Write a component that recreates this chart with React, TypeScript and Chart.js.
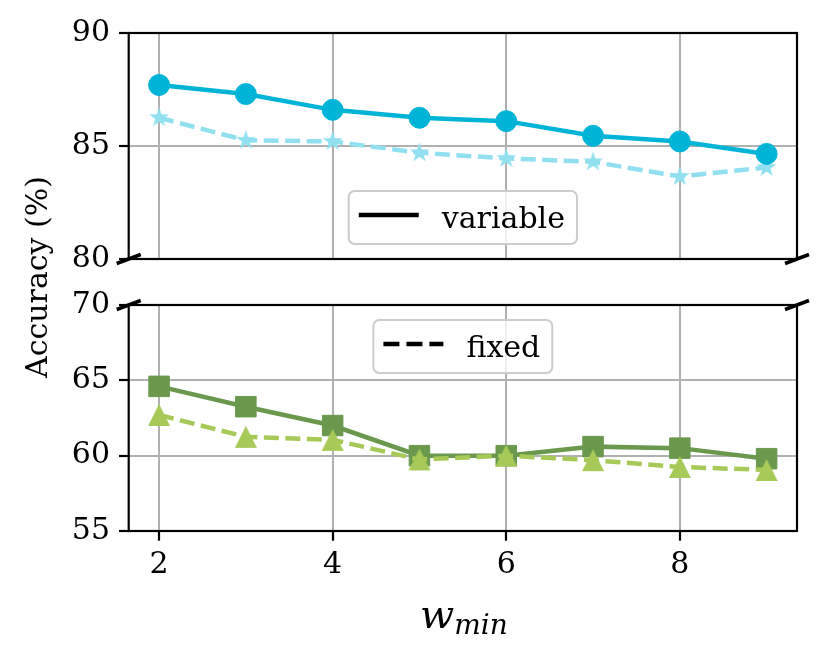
import React, { useEffect, useRef } from "react";
import { Chart, registerables } from "chart.js";

Chart.register(...registerables);

// ---------------- data ----------------
const wMin = [2, 3, 4, 5, 6, 7, 8, 9];
// upper panel (80-90)
const upperVariable = [87.7, 87.3, 86.6, 86.25, 86.1, 85.45, 85.2, 84.65];
const upperFixed = [86.25, 85.25, 85.2, 84.7, 84.45, 84.3, 83.65, 84.05];
// lower panel (55-70)
const lowerVariable = [64.6, 63.25, 62.0, 60.0, 60.0, 60.6, 60.5, 59.8];
const lowerFixed = [62.7, 61.25, 61.05, 59.75, 60.0, 59.7, 59.25, 59.05];

const xTickValues = [2, 4, 6, 8];
const upperYTicks = [80, 85, 90];
const lowerYTicks = [55, 60, 65, 70];
const upperLegendLabel = "variable";
const lowerLegendLabel = "fixed";
const yAxisTitle = "Accuracy (%)";
const xAxisMain = "w";
const xAxisSub = "min";

// ---------------- styles ----------------
const FONT = '"DejaVu Serif", "Liberation Serif", serif';
const FS = 30;
const C_CIRCLE = "#00b4d8";
const C_STAR = "#90e0ef";
const C_SQUARE = "#6a994e";
const C_TRI = "#a7c957";
const DASH = [15, 6.5];
const LW = 4.5;

function makeStar(color: string, R: number): HTMLCanvasElement {
  const c = document.createElement("canvas");
  const s = Math.ceil(2 * R + 4);
  c.width = s;
  c.height = s;
  const ctx = c.getContext("2d")!;
  const cx = s / 2,
    cy = s / 2;
  const r = R * 0.381966;
  ctx.fillStyle = color;
  ctx.beginPath();
  for (let i = 0; i < 10; i++) {
    const ang = -Math.PI / 2 + (i * Math.PI) / 5;
    const rad = i % 2 === 0 ? R : r;
    const px = cx + Math.cos(ang) * rad;
    const py = cy + Math.sin(ang) * rad;
    if (i === 0) ctx.moveTo(px, py);
    else ctx.lineTo(px, py);
  }
  ctx.closePath();
  ctx.fill();
  return c;
}

function makeTriangle(color: string, size: number): HTMLCanvasElement {
  const c = document.createElement("canvas");
  const s = Math.ceil(size + 2);
  c.width = s;
  c.height = s;
  const ctx = c.getContext("2d")!;
  const h = size / 2;
  const cx = s / 2,
    cy = s / 2;
  ctx.fillStyle = color;
  ctx.beginPath();
  ctx.moveTo(cx, cy - h);
  ctx.lineTo(cx - h, cy + h);
  ctx.lineTo(cx + h, cy + h);
  ctx.closePath();
  ctx.fill();
  return c;
}

function drawLegend(
  ctx: CanvasRenderingContext2D,
  a: any,
  text: string,
  dashed: boolean,
  where: "lower" | "upper"
) {
  ctx.save();
  ctx.font = `${FS}px ${FONT}`;
  const tw = ctx.measureText(text).width;
  const padL = 10,
    handle = 60,
    gap = 23,
    padR = 12,
    h = 53;
  const w = padL + handle + gap + tw + padR;
  const cx = (a.left + a.right) / 2;
  const x0 = cx - w / 2;
  const y0 = where === "lower" ? a.bottom - 15 - h : a.top + 15;
  ctx.beginPath();
  if ((ctx as any).roundRect) (ctx as any).roundRect(x0, y0, w, h, 6);
  else ctx.rect(x0, y0, w, h);
  ctx.fillStyle = "rgba(255,255,255,0.8)";
  ctx.fill();
  ctx.strokeStyle = "#cccccc";
  ctx.lineWidth = 2;
  ctx.stroke();
  const ly = y0 + h / 2 - 2.5;
  ctx.beginPath();
  ctx.setLineDash(dashed ? [16, 7] : []);
  ctx.strokeStyle = "#000";
  ctx.lineWidth = 4.5;
  ctx.moveTo(x0 + padL, ly);
  ctx.lineTo(x0 + padL + handle, ly);
  ctx.stroke();
  ctx.setLineDash([]);
  ctx.fillStyle = "#000";
  ctx.textBaseline = "alphabetic";
  ctx.textAlign = "left";
  ctx.fillText(text, x0 + padL + handle + gap, y0 + h / 2 + 10);
  ctx.restore();
}

function framePlugin(
  legendText: string,
  dashed: boolean,
  where: "lower" | "upper",
  breakEdge: "top" | "bottom",
  drawXLabel: boolean
) {
  return {
    id: "frameAndLegend",
    afterDraw(chart: any) {
      const { ctx, chartArea: a } = chart;
      drawLegend(ctx, a, legendText, dashed, where);
      ctx.save();
      ctx.strokeStyle = "#000";
      ctx.lineWidth = 2.2;
      ctx.strokeRect(a.left, a.top, a.right - a.left, a.bottom - a.top);
      const y = breakEdge === "bottom" ? a.bottom : a.top;
      ctx.lineWidth = 3.5;
      for (const x of [a.left, a.right]) {
        ctx.beginPath();
        ctx.moveTo(x - 12, y + 4.5);
        ctx.lineTo(x + 12, y - 4.5);
        ctx.stroke();
      }
      if (drawXLabel) {
        const mainFont = `italic 40px ${FONT}`;
        const subFont = `italic 28px ${FONT}`;
        ctx.font = mainFont;
        const w1 = ctx.measureText(xAxisMain).width;
        ctx.font = subFont;
        const w2 = ctx.measureText(xAxisSub).width;
        const cx = (a.left + a.right) / 2;
        const x0 = cx - (w1 + w2) / 2 + 1;
        const base = a.bottom + 97;
        ctx.fillStyle = "#000";
        ctx.textBaseline = "alphabetic";
        ctx.textAlign = "left";
        ctx.font = mainFont;
        ctx.fillText(xAxisMain, x0, base);
        ctx.font = subFont;
        ctx.fillText(xAxisSub, x0 + w1, base + 6);
      }
      ctx.restore();
    },
  };
}

function makeConfig(
  datasets: any[],
  yMin: number,
  yMax: number,
  yTicks: number[],
  top: number,
  xHeight: number,
  showX: boolean,
  plugin: any
): any {
  return {
    type: "line",
    data: { datasets },
    plugins: [plugin],
    options: {
      animation: false,
      responsive: false,
      maintainAspectRatio: false,
      events: [],
      layout: { padding: { left: 0, right: 33, top, bottom: 0 } },
      plugins: { legend: { display: false }, tooltip: { enabled: false } },
      scales: {
        x: {
          type: "linear",
          min: 1.65,
          max: 9.35,
          afterBuildTicks: (s: any) => {
            s.ticks = xTickValues.map((v) => ({ value: v }));
          },
          afterFit: (s: any) => {
            s.height = xHeight;
          },
          border: { display: false },
          grid: {
            color: "#b0b0b0",
            lineWidth: 2,
            drawTicks: showX,
            tickLength: 9.7,
            tickColor: "#000",
            tickWidth: 2.2,
          },
          ticks: {
            display: showX,
            color: "#000",
            padding: 7,
            maxRotation: 0,
            font: { family: FONT, size: FS },
            callback: (v: any) => String(v),
          },
        },
        y: {
          type: "linear",
          min: yMin,
          max: yMax,
          afterBuildTicks: (s: any) => {
            s.ticks = yTicks.map((v) => ({ value: v }));
          },
          afterFit: (s: any) => {
            s.width = 128.7;
          },
          border: { display: false },
          grid: {
            color: "#b0b0b0",
            lineWidth: 2,
            drawTicks: true,
            tickLength: 9.7,
            tickColor: "#000",
            tickWidth: 2.2,
          },
          ticks: {
            color: "#000",
            padding: 9,
            font: { family: FONT, size: FS },
            callback: (v: any) => String(v),
          },
        },
      },
    },
  };
}

function pts(ys: number[]) {
  return wMin.map((x, i) => ({ x, y: ys[i] }));
}

// canvas geometry (page px)
const TOP_H = 300; // top canvas spans 0..300, plot area 33..259
const BOT_Y = 270; // bottom canvas spans 270..662, plot area 305..531
const BOT_H = 662 - BOT_Y;

export default function App() {
  const topRef = useRef<HTMLCanvasElement>(null);
  const botRef = useRef<HTMLCanvasElement>(null);

  useEffect(() => {
    const star = makeStar(C_STAR, 10.5);
    const tri = makeTriangle(C_TRI, 22);

    const topDatasets = [
      {
        label: "variable",
        data: pts(upperVariable),
        borderColor: C_CIRCLE,
        backgroundColor: C_CIRCLE,
        borderWidth: LW,
        pointStyle: "circle",
        pointRadius: 10.5,
        pointBackgroundColor: C_CIRCLE,
        pointBorderColor: C_CIRCLE,
        pointBorderWidth: 1,
        tension: 0,
        order: 0,
      },
      {
        label: "fixed",
        data: pts(upperFixed),
        borderColor: C_STAR,
        backgroundColor: C_STAR,
        borderWidth: LW,
        borderDash: DASH,
        pointStyle: star,
        pointRadius: 10,
        tension: 0,
        order: 1,
      },
    ];

    const botDatasets = [
      {
        label: "variable",
        data: pts(lowerVariable),
        borderColor: C_SQUARE,
        backgroundColor: C_SQUARE,
        borderWidth: LW,
        pointStyle: "rect",
        pointRadius: 14.5,
        pointBackgroundColor: C_SQUARE,
        pointBorderColor: C_SQUARE,
        pointBorderWidth: 1,
        tension: 0,
        order: 1,
      },
      {
        label: "fixed",
        data: pts(lowerFixed),
        borderColor: C_TRI,
        backgroundColor: C_TRI,
        borderWidth: LW,
        borderDash: DASH,
        pointStyle: tri,
        pointRadius: 11,
        tension: 0,
        order: 0,
      },
    ];

    const c1 = new Chart(
      topRef.current!,
      makeConfig(
        topDatasets,
        80,
        90,
        upperYTicks,
        33,
        TOP_H - 259,
        false,
        framePlugin(upperLegendLabel, false, "lower", "bottom", false)
      )
    );
    const c2 = new Chart(
      botRef.current!,
      makeConfig(
        botDatasets,
        55,
        70,
        lowerYTicks,
        305 - BOT_Y,
        662 - 531,
        true,
        framePlugin(lowerLegendLabel, true, "upper", "top", true)
      )
    );
    return () => {
      c1.destroy();
      c2.destroy();
    };
  }, []);

  return (
    <div
      style={{
        position: "fixed",
        left: 0,
        top: 0,
        width: 830,
        height: 662,
        background: "#fff",
        overflow: "hidden",
      }}
    >
      <canvas
        ref={topRef}
        width={830}
        height={TOP_H}
        style={{ position: "absolute", left: 0, top: 0, width: 830, height: TOP_H }}
      />
      <canvas
        ref={botRef}
        width={830}
        height={BOT_H}
        style={{ position: "absolute", left: 0, top: BOT_Y, width: 830, height: BOT_H }}
      />
      <div
        style={{
          position: "absolute",
          left: 37,
          top: 277,
          transform: "translate(-50%, -50%) rotate(-90deg)",
          whiteSpace: "nowrap",
          fontFamily: FONT,
          fontSize: FS,
          color: "#000",
          lineHeight: 1,
        }}
      >
        {yAxisTitle}
      </div>
    </div>
  );
}
